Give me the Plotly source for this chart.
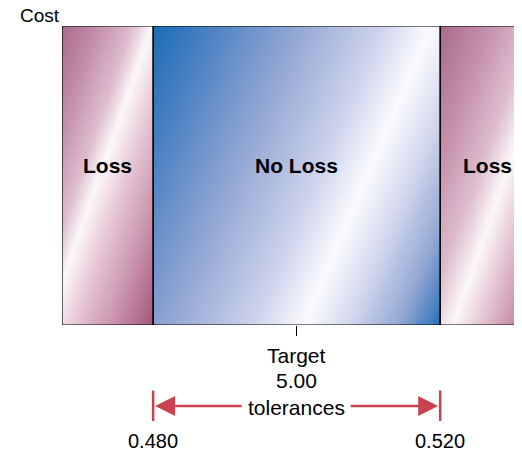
import numpy as np
import plotly.graph_objects as go

# ---- data ----
zone_labels = ["Loss", "No Loss", "Loss"]
zone_lo = [0.4673, 0.480, 0.520]
zone_hi = [0.480, 0.520, 0.5332]
target_value = 0.500
target_text = ["Target", "5.00"]
tol_values = [0.480, 0.520]
tol_labels = ["0.480", "0.520"]
tol_caption = "tolerances"
y_title = "Cost"

# ---- style ----
X_RANGE = [0.4673, 0.5314]
PX_X = 7175.0   # pixels per x unit (plot area)
PX_Y = 299.0    # pixels per y unit
FONT = "Liberation Sans, Arial, sans-serif"
FS = 20
RED = "#c8434f"
TOP = 18        # top margin (page has an 8px body offset)

blue_scale = [[0.0, "#1b6cb6"], [0.15, "#4e82c3"], [0.35, "#93a7d3"],
              [0.55, "#cdd3ec"], [0.67, "#fbfbfd"], [0.78, "#d2d7ee"],
              [0.9, "#93a7d3"], [1.0, "#2a6fb6"]]
pink_scale_l = [[0.0, "#a9698b"], [0.2, "#c592ac"], [0.36, "#ddbdcd"],
                [0.46, "#fcf8fa"], [0.6, "#e6c7d5"], [0.8, "#c890aa"],
                [1.0, "#a35577"]]
pink_scale_r = [[0.0, "#a9698b"], [0.25, "#c592ac"], [0.45, "#ddbdcd"],
                [0.59, "#fcf8fa"], [0.72, "#e6c7d5"], [0.88, "#c890aa"],
                [1.0, "#a35577"]]
scales = [pink_scale_l, blue_scale, pink_scale_r]
grad_b = [102.0, 125.0, 102.0]


def gradient(lo, hi, nx, ny, a=292.0, b=102.0):
    xe = np.linspace(lo, hi, nx + 1)
    ye = np.linspace(0.0, 1.0, ny + 1)
    xc = (xe[:-1] + xe[1:]) / 2
    yc = (ye[:-1] + ye[1:]) / 2
    W = (hi - lo) * PX_X
    H = PX_Y
    U, V = np.meshgrid((xc - lo) * PX_X, (1 - yc) * PX_Y)
    z = (a * U + b * V) / (a * W + b * H)
    return xe, ye, z


fig = go.Figure()
for lo, hi, cs, gb in zip(zone_lo, zone_hi, scales, grad_b):
    nx = max(20, int((hi - lo) * PX_X / 2))
    xe, ye, z = gradient(lo, hi, nx, 150, b=gb)
    fig.add_trace(go.Heatmap(x=xe, y=ye, z=z, colorscale=cs, zmin=0, zmax=1,
                             showscale=False, hoverinfo="skip", zsmooth=False))
    fig.add_shape(type="rect", xref="x", yref="y", x0=lo, x1=hi, y0=0, y1=1,
                  line=dict(color="black", width=1.2), fillcolor="rgba(0,0,0,0)")


def py(pix):
    # target pixel row on the page -> paper y (plot bottom at 325, height 299)
    return (325 - pix) / 299.0


for lo, hi, lab in zip(zone_lo, zone_hi, zone_labels):
    fig.add_annotation(x=(lo + hi) / 2, y=0.535, xref="x", yref="y", text=f"<b>{lab}</b>",
                       showarrow=False, font=dict(family=FONT, size=FS + 1, color="black"))

fig.add_annotation(x=-0.048, y=py(15), xref="paper", yref="paper", text=y_title,
                   showarrow=False, xanchor="center", yanchor="middle", borderpad=0,
                   font=dict(family=FONT, size=FS - 1, color="black"))

for txt, pix in zip(target_text + [tol_caption], [355, 381, 407]):
    fig.add_annotation(x=target_value, y=py(pix), xref="x", yref="paper", text=txt,
                       showarrow=False, xanchor="center", yanchor="middle",
                       font=dict(family=FONT, size=FS + 1, color="black"))

for v, lab, off in zip(tol_values, tol_labels, [90, -91]):
    # tolerance bar
    fig.add_annotation(x=v, y=py(421), xref="x", yref="paper", text="", showarrow=True,
                       ax=0, ay=-32, arrowhead=0, arrowwidth=2.5, arrowcolor=RED)
    # arrow
    fig.add_annotation(x=v, y=py(406), xref="x", yref="paper", text="", showarrow=True,
                       ax=off, ay=0, arrowhead=2, arrowsize=1.6, arrowwidth=2.5,
                       arrowcolor=RED, standoff=2)
    fig.add_annotation(x=v, y=py(441), xref="x", yref="paper", text=lab,
                       showarrow=False, xanchor="center", yanchor="middle",
                       font=dict(family=FONT, size=FS, color="black"))

fig.update_xaxes(range=X_RANGE, showgrid=False, zeroline=False, showline=False,
                 ticks="outside", tickvals=[target_value], ticklen=10, tickwidth=1,
                 tickcolor="black", showticklabels=False)
fig.update_yaxes(range=[0, 1], showgrid=False, zeroline=False, showline=False,
                 showticklabels=False, ticks="")
fig.update_layout(width=514, height=444, margin=dict(l=54, r=0, t=TOP, b=444 - TOP - 299),
                  paper_bgcolor="white", plot_bgcolor="white", showlegend=False)

fig.write_html("out.html")
